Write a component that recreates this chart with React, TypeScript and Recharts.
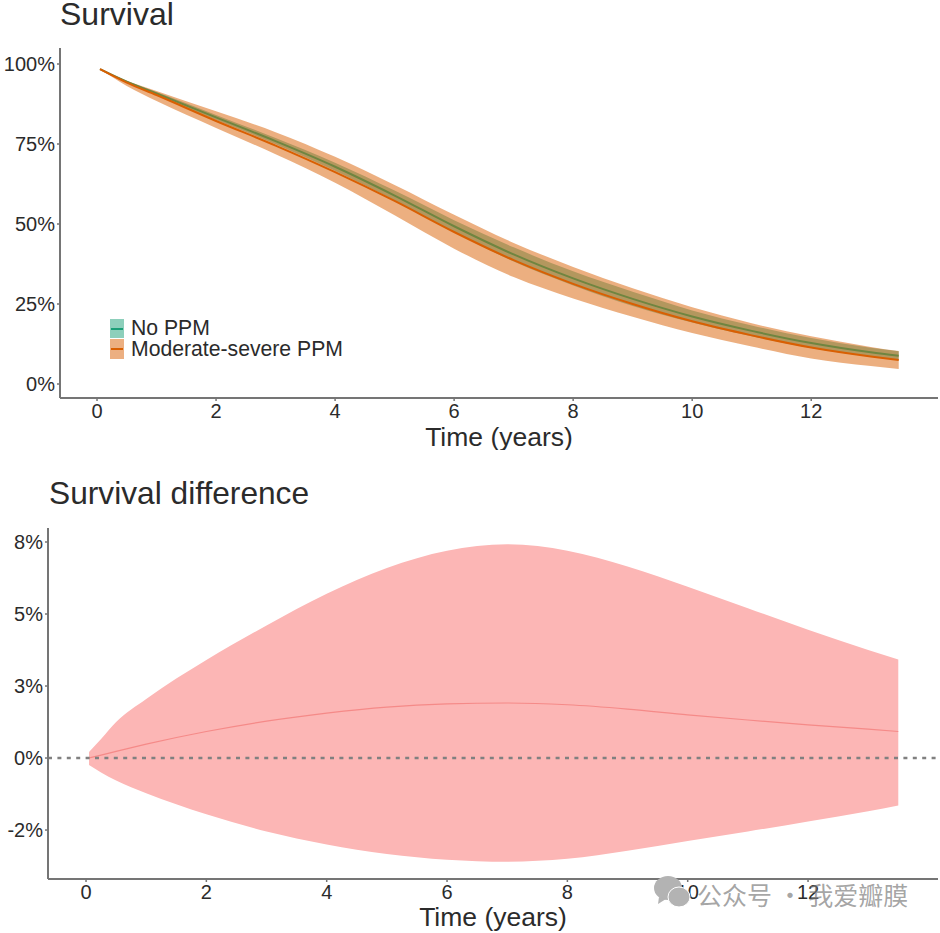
import React from "react";
import { ComposedChart, Area, Line, XAxis, YAxis, ReferenceLine } from "recharts";

const FONT = '"Liberation Sans", Arial, sans-serif';
const INK = "#2b2b2b";
const AXIS = "#757575";

const survivalTime = [0.05, 0.5, 1, 2, 3, 4, 5, 6, 7, 8, 9, 10, 11, 12, 13, 13.47];
const noPpm = [98.4, 94.5, 90.8, 83.3, 75.9, 67.9, 58.9, 49.3, 40.5, 33.0, 26.6, 21.1, 16.6, 12.8, 9.9, 8.8];
const noPpmLow = [98.4, 94.3, 90.35, 82.5, 74.95, 66.65, 57.35, 47.4, 38.3, 30.8, 24.4, 19.2, 14.9, 11.25, 8.5, 7.4];
const noPpmHigh = [98.4, 94.7, 91.25, 84.1, 76.85, 69.15, 60.45, 51.2, 42.7, 35.2, 28.8, 23, 18.3, 14.35, 11.3, 10.2];
const ppm = [98.4, 94.2, 90.3, 82.2, 74.5, 66.2, 57.2, 47.5, 38.7, 31.3, 25, 19.6, 15.2, 11.4, 8.6, 7.5];
const ppmLow = [98.4, 93.1, 88.4, 80, 71.8, 62.9, 52.7, 42.3, 33.4, 26.7, 21, 15.9, 11.7, 8, 5.6, 4.7];
const ppmHigh = [98.4, 94.8, 91.6, 85.2, 78.7, 71, 62.2, 52.9, 44.1, 36.6, 29.9, 24, 19, 14.9, 11.6, 10.3];

const diffTime = [0.05, 0.25, 0.5, 1, 2, 3, 4, 5, 6, 7, 8, 9, 10, 11, 12, 13, 13.5];
const diff = [0, 0.1, 0.23, 0.48, 0.92, 1.28, 1.56, 1.77, 1.88, 1.91, 1.85, 1.7, 1.5, 1.32, 1.15, 1.0, 0.92];
const diffLow = [-0.24, -0.5, -0.78, -1.22, -1.95, -2.55, -3.0, -3.33, -3.53, -3.6, -3.5, -3.22, -2.88, -2.55, -2.2, -1.85, -1.65];
const diffHigh = [0.21, 0.66, 1.25, 2.05, 3.4, 4.6, 5.7, 6.6, 7.2, 7.42, 7.2, 6.65, 5.95, 5.2, 4.45, 3.75, 3.42];

const xTicks = [0, 2, 4, 6, 8, 10, 12];
const survivalTicks = [0, 25, 50, 75, 100];
const diffTicks = [-2.5, 0, 2.5, 5, 7.5];
const diffTickLabels = ["-2%", "0%", "3%", "5%", "8%"];
const seriesNames = ["No PPM", "Moderate-severe PPM"];
const seriesColors = ["#1b9e77", "#d95f02"];
const noPpmLineUnderBand = "#6f8540";

const survivalRows = survivalTime.map((t, i) => ({
  t,
  noPpm: noPpm[i],
  ppm: ppm[i],
  noPpmBand: [noPpmLow[i], noPpmHigh[i]],
  ppmBand: [ppmLow[i], ppmHigh[i]],
}));
const diffRows = diffTime.map((t, i) => ({ t, diff: diff[i], band: [diffLow[i], diffHigh[i]] }));

const tickStyle = { fontSize: 20, fill: INK, fontFamily: FONT };
const axisLine = { stroke: AXIS, strokeWidth: 2 };
const tickLine = { stroke: AXIS, strokeWidth: 1.5 };
const labelStyle = { fontSize: 26.5, fill: INK, fontFamily: FONT };

function LegendBox() {
  return (
    <div style={{ position: "absolute", left: 110, top: 318, fontFamily: FONT, fontSize: 21.2, color: INK, lineHeight: "20.5px", whiteSpace: "nowrap" }}>
      {seriesNames.map((name, i) => (
        <div key={name} style={{ display: "flex", alignItems: "center", height: 20.5 }}>
          <span style={{ position: "relative", width: 14, height: 19.5, marginRight: 7, background: seriesColors[i] }}>
            <span style={{ position: "absolute", inset: 0, background: "#fff", opacity: 0.5 }} />
            <span style={{ position: "absolute", left: 1, right: 1, top: 9, height: 2, background: seriesColors[i] }} />
          </span>
          <span>{name}</span>
        </div>
      ))}
    </div>
  );
}

function Title({ text, left, top, size }: { text: string; left: number; top: number; size: number }) {
  return (
    <div style={{ position: "absolute", left, top, fontFamily: FONT, fontSize: size, color: INK, lineHeight: 1, whiteSpace: "nowrap" }}>
      {text}
    </div>
  );
}

export default function App() {
  return (
    <div style={{ position: "absolute", left: 0, top: 0, width: 940, height: 933, background: "#fff", overflow: "hidden" }}>
      <div style={{ position: "absolute", left: 0, top: 0 }}>
        <ComposedChart width={940} height={450} data={survivalRows} margin={{ top: 48, right: 2, bottom: 0, left: 0 }}>
          <XAxis
            dataKey="t"
            type="number"
            domain={[-0.622, 14.13]}
            allowDataOverflow
            ticks={xTicks}
            interval={0}
            height={52}
            tickSize={3}
            tickMargin={3}
            tick={tickStyle}
            axisLine={axisLine}
            tickLine={tickLine}
            label={{ value: "Time (years)", position: "insideBottom", offset: 4, style: labelStyle }}
          />
          <YAxis
            type="number"
            domain={[-4.375, 105]}
            allowDataOverflow
            ticks={survivalTicks}
            interval={0}
            width={60}
            tickSize={3}
            tickMargin={2}
            tick={tickStyle}
            axisLine={axisLine}
            tickLine={tickLine}
            tickFormatter={(v: number) => `${v}%`}
          />
          <Area dataKey="noPpmBand" type="monotone" fill={seriesColors[0]} fillOpacity={0.5} stroke="none" isAnimationActive={false} />
          <Area dataKey="ppmBand" type="monotone" fill={seriesColors[1]} fillOpacity={0.5} stroke="none" isAnimationActive={false} />
          <Line dataKey="noPpm" type="monotone" stroke={noPpmLineUnderBand} strokeWidth={2} dot={false} isAnimationActive={false} />
          <Line dataKey="ppm" type="monotone" stroke={seriesColors[1]} strokeWidth={2} dot={false} isAnimationActive={false} />
        </ComposedChart>
      </div>
      <Title text="Survival" left={60} top={-2} size={32} />
      <LegendBox />

      <div style={{ position: "absolute", left: 0, top: 470 }}>
        <ComposedChart width={940} height={463} data={diffRows} margin={{ top: 58, right: 2, bottom: 0, left: 0 }}>
          <XAxis
            dataKey="t"
            type="number"
            domain={[-0.632, 14.16]}
            allowDataOverflow
            ticks={xTicks}
            interval={0}
            height={54}
            tickSize={3}
            tickMargin={3}
            tick={tickStyle}
            axisLine={axisLine}
            tickLine={tickLine}
            label={{ value: "Time (years)", position: "insideBottom", offset: 7, style: labelStyle }}
          />
          <YAxis
            type="number"
            domain={[-4.2, 7.986]}
            allowDataOverflow
            ticks={diffTicks}
            interval={0}
            width={48}
            tickSize={3}
            tickMargin={2}
            tick={tickStyle}
            axisLine={axisLine}
            tickLine={tickLine}
            tickFormatter={(v: number) => diffTickLabels[diffTicks.indexOf(v)]}
          />
          <Area dataKey="band" type="monotone" fill="#fcb6b5" fillOpacity={1} stroke="none" isAnimationActive={false} />
          <Line dataKey="diff" type="monotone" stroke="#f58a88" strokeWidth={1.2} dot={false} isAnimationActive={false} />
          <ReferenceLine y={0} stroke="#808080" strokeWidth={2.5} strokeDasharray="4 5.4" />
        </ComposedChart>
      </div>
      <Title text="Survival difference" left={49} top={478} size={31.7} />

      <svg width={50} height={40} style={{ position: "absolute", left: 650, top: 875 }}>
        <ellipse cx={18} cy={13} rx={14} ry={12} fill="#b3b3b3" />
        <path d="M9 22 L8 29 L16 24 Z" fill="#b3b3b3" />
        <ellipse cx={29} cy={22} rx={11} ry={10} fill="#b3b3b3" stroke="#fff" strokeWidth={1} />
      </svg>
      <div style={{ position: "absolute", left: 697, top: 878, fontFamily: '"Noto Sans CJK SC", sans-serif', fontSize: 25, lineHeight: "32px", color: "rgba(120,120,120,0.68)", whiteSpace: "nowrap" }}>
        公众号 · 我爱瓣膜
      </div>
    </div>
  );
}
